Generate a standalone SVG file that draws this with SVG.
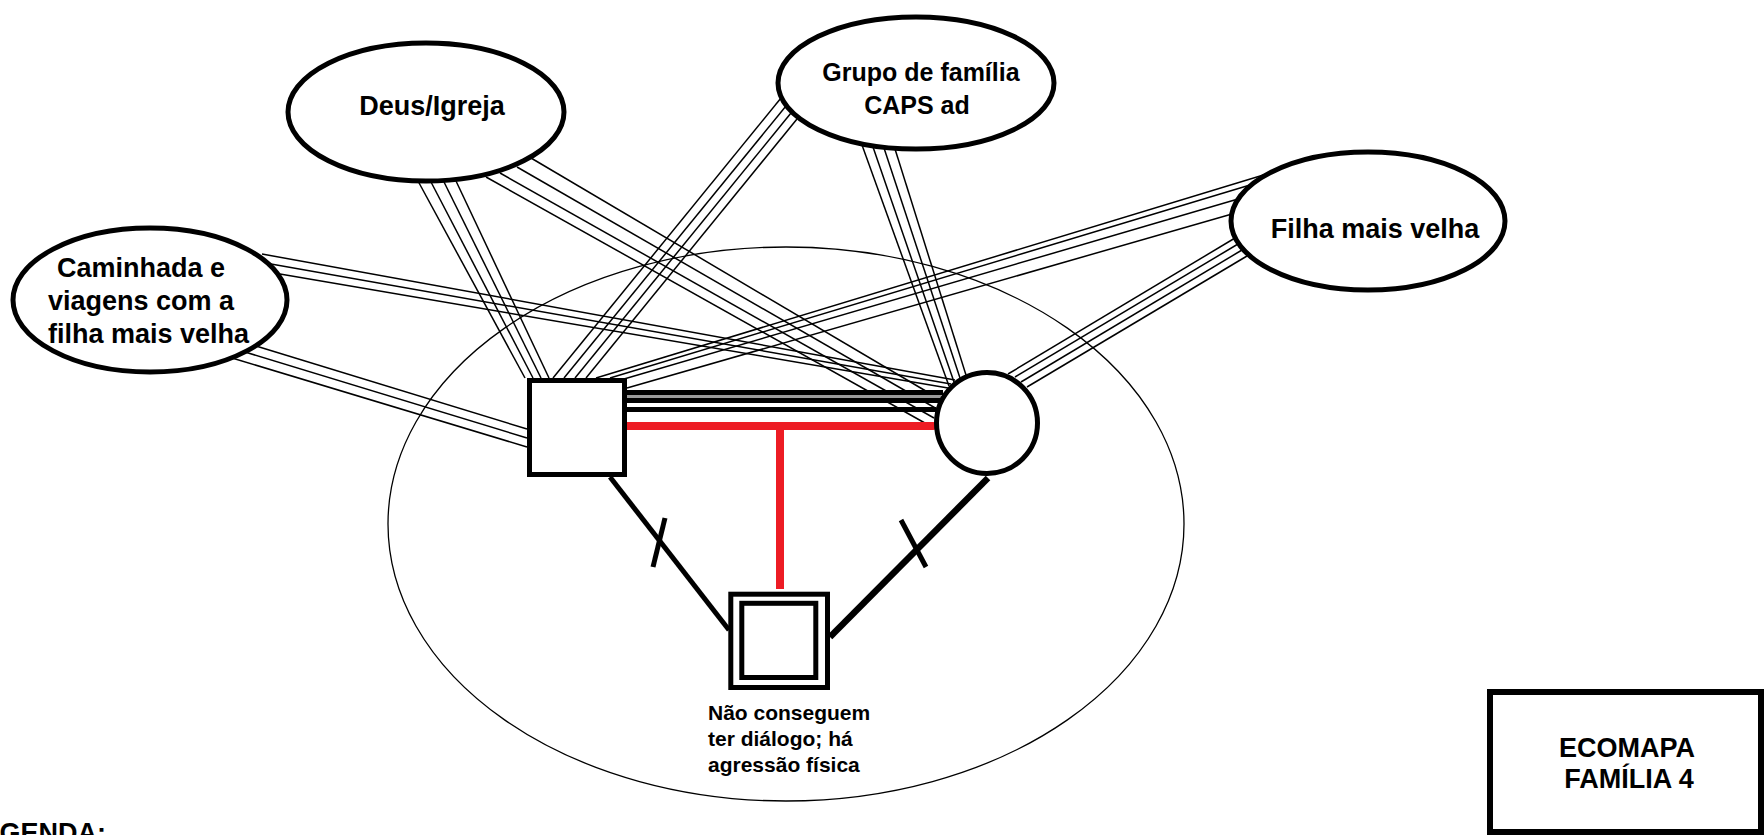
<svg xmlns="http://www.w3.org/2000/svg" width="1764" height="835" viewBox="0 0 1764 835">
  <style>
    .lbl { font-family: "Liberation Sans", Arial, sans-serif; font-weight: bold; fill: #000; }
    .node { fill: #fff; stroke: #000; stroke-width: 5; }
    .thin { stroke: #000; stroke-width: 1.5; fill: none; }
    .strong { stroke: #000; stroke-width: 5; fill: none; }
    .red { stroke: #ED1C24; stroke-width: 8; fill: none; }
  </style>
  <rect x="0" y="0" width="1764" height="835" fill="#fff"/>

  <!-- household boundary -->
  <ellipse id="household" cx="786" cy="524" rx="398" ry="277" fill="none" stroke="#000" stroke-width="1.3"/>

  <g id="connectors">
    <!-- Caminhada -> father -->
    <g class="thin">
      <line x1="256" y1="346" x2="527" y2="429"/>
      <line x1="245" y1="352" x2="527" y2="438"/>
      <line x1="232" y1="358" x2="527" y2="447"/>
    </g>
    <!-- Caminhada -> mother -->
    <g class="thin">
      <line x1="262" y1="254" x2="955" y2="380"/>
      <line x1="271" y1="264" x2="951" y2="384"/>
      <line x1="280" y1="274" x2="948" y2="388"/>
    </g>
    <!-- Deus/Igreja -> father -->
    <g class="thin">
      <line x1="418" y1="181" x2="525" y2="378"/>
      <line x1="431" y1="182" x2="533" y2="378"/>
      <line x1="444" y1="182" x2="541" y2="378"/>
      <line x1="456" y1="181" x2="549" y2="378"/>
    </g>
    <!-- Deus/Igreja -> mother -->
    <g class="thin">
      <line x1="531" y1="158" x2="941" y2="400"/>
      <line x1="517" y1="167" x2="937" y2="409"/>
      <line x1="500" y1="173" x2="934" y2="418"/>
      <line x1="486" y1="177" x2="932" y2="427"/>
    </g>
    <!-- Grupo de familia -> father -->
    <g class="thin">
      <line x1="781" y1="98" x2="553" y2="378"/>
      <line x1="786" y1="106" x2="564" y2="378"/>
      <line x1="791" y1="113" x2="575" y2="378"/>
      <line x1="797" y1="119" x2="586" y2="378"/>
    </g>
    <!-- Grupo de familia -> mother -->
    <g class="thin">
      <line x1="862" y1="145" x2="949" y2="386"/>
      <line x1="873" y1="147" x2="954" y2="382"/>
      <line x1="884" y1="148" x2="960" y2="378"/>
      <line x1="895" y1="149" x2="966" y2="375"/>
    </g>
    <!-- Filha mais velha -> father -->
    <g class="thin">
      <line x1="1270" y1="173" x2="596" y2="378"/>
      <line x1="1250" y1="185" x2="610" y2="378"/>
      <line x1="1238" y1="199" x2="624" y2="379"/>
      <line x1="1232" y1="214" x2="627" y2="388"/>
    </g>
    <!-- Filha mais velha -> mother -->
    <g class="thin">
      <line x1="1235" y1="238" x2="1008" y2="374"/>
      <line x1="1238" y1="244" x2="1015" y2="377"/>
      <line x1="1242" y1="250" x2="1021" y2="382"/>
      <line x1="1247" y1="256" x2="1027" y2="387"/>
    </g>

    <!-- couple: strong bond -->
    <line class="strong" x1="627" y1="392.5" x2="943" y2="392.5"/>
    <line x1="627" y1="396.5" x2="941" y2="396.5" stroke="#9a9a9a" stroke-width="3"/>
    <line class="strong" x1="627" y1="400.5" x2="940" y2="400.5"/>
    <line class="strong" x1="627" y1="409.5" x2="936" y2="409.5"/>
    <!-- couple: conflict (red) and link to child -->
    <line class="red" x1="625" y1="426" x2="933" y2="426" stroke-linecap="round"/>
    <line class="red" x1="780" y1="426" x2="780" y2="589"/>

    <!-- parent -> child, broken -->
    <line x1="610" y1="477" x2="729" y2="630" stroke="#000" stroke-width="5"/>
    <line x1="665" y1="518" x2="653" y2="567" stroke="#000" stroke-width="5"/>
    <line x1="988" y1="478" x2="830" y2="637" stroke="#000" stroke-width="6.5"/>
    <line x1="901" y1="520" x2="926" y2="567" stroke="#000" stroke-width="5"/>
  </g>

  <g id="caminhada">
    <ellipse class="node" cx="150" cy="300" rx="137" ry="72"/>
    <text class="lbl" font-size="27" x="57" y="277">Caminhada e</text>
    <text class="lbl" font-size="27" x="48" y="310">viagens com a</text>
    <text class="lbl" font-size="27" x="48" y="343">filha mais velha</text>
  </g>

  <g id="deus-igreja">
    <ellipse class="node" cx="426" cy="112" rx="138" ry="69"/>
    <text class="lbl" font-size="27" x="432" y="115" text-anchor="middle">Deus/Igreja</text>
  </g>

  <g id="grupo-familia">
    <ellipse class="node" cx="916" cy="83" rx="138" ry="66"/>
    <text class="lbl" font-size="25" x="921" y="81" text-anchor="middle">Grupo de família</text>
    <text class="lbl" font-size="25" x="917" y="114" text-anchor="middle">CAPS ad</text>
  </g>

  <g id="filha-mais-velha">
    <ellipse class="node" cx="1368" cy="221" rx="137" ry="69"/>
    <text class="lbl" font-size="27" x="1375" y="238" text-anchor="middle">Filha mais velha</text>
  </g>

  <g id="father">
    <rect class="node" x="529.5" y="380.5" width="95" height="94"/>
  </g>

  <g id="mother">
    <circle class="node" cx="987" cy="423" r="50.5"/>
  </g>

  <g id="child">
    <rect class="node" x="730.8" y="594.2" width="96.7" height="93.3"/>
    <rect class="node" x="741.8" y="603.3" width="74" height="74.2"/>
    <text class="lbl" font-size="21" x="708" y="720">Não conseguem</text>
    <text class="lbl" font-size="21" x="708" y="746">ter diálogo; há</text>
    <text class="lbl" font-size="21" x="708" y="772">agressão física</text>
  </g>

  <g id="title">
    <rect x="1490" y="692" width="271" height="140" fill="#fff" stroke="#000" stroke-width="6"/>
    <text class="lbl" font-size="27" x="1627" y="757" text-anchor="middle">ECOMAPA</text>
    <text class="lbl" font-size="27" x="1629" y="788" text-anchor="middle">FAMÍLIA 4</text>
  </g>

  <g id="legend">
    <text class="lbl" font-size="27" x="-35" y="842">LEGENDA:</text>
  </g>
</svg>
